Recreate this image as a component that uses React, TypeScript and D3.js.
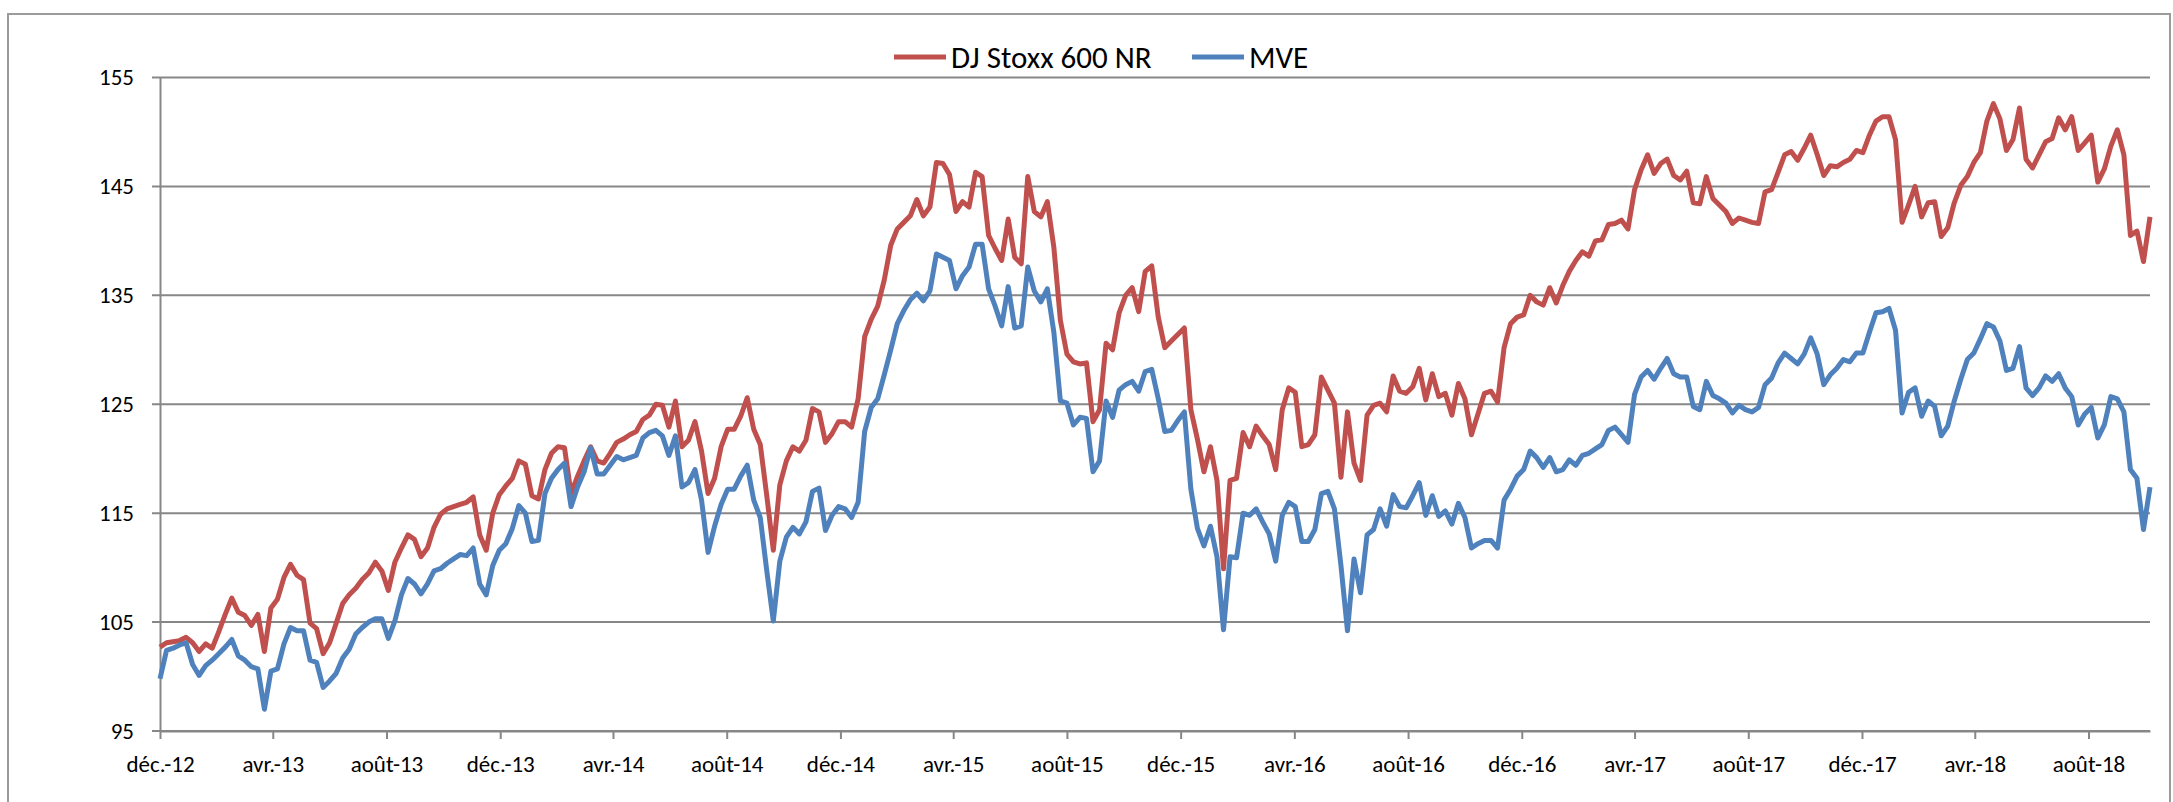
import React, { useEffect, useRef } from 'react';
import * as d3 from 'd3';

const WIDTH = 2173;
const HEIGHT = 802;

// weekly points, first one on 1 Dec 2012
const startDate = new Date(Date.UTC(2012, 11, 1));

const stoxx = [
  102.7, 103.1, 103.2, 103.3, 103.6, 103.1, 102.3, 103.0, 102.6, 104.1,
  105.7, 107.2, 105.9, 105.6, 104.7, 105.7, 102.3, 106.3, 107.1, 109.1,
  110.3, 109.3, 108.9, 104.9, 104.4, 102.1, 103.1, 104.9, 106.7, 107.5,
  108.1, 108.9, 109.5, 110.5, 109.7, 107.9, 110.5, 111.8, 113.0, 112.6,
  111.0, 111.8, 113.7, 114.9, 115.4, 115.6, 115.8, 116.0, 116.5, 113.0,
  111.6, 115.0, 116.7, 117.5, 118.2, 119.8, 119.5, 116.6, 116.3, 119.0,
  120.5, 121.1, 121.0, 116.8, 118.4, 119.8, 121.1, 119.8, 119.6, 120.5,
  121.5, 121.8, 122.2, 122.5, 123.6, 124.0, 125.0, 124.9, 122.9, 125.3,
  121.1, 121.7, 123.4, 120.7, 116.8, 118.2, 121.1, 122.7, 122.7, 123.9,
  125.6, 122.7, 121.3, 116.6, 111.6, 117.6, 119.8, 121.1, 120.7, 121.7,
  124.6, 124.3, 121.5, 122.3, 123.4, 123.4, 122.9, 125.5, 131.2, 132.8,
  134.0, 136.4, 139.6, 141.1, 141.7, 142.3, 143.8, 142.3, 143.1, 147.2,
  147.1, 146.1, 142.7, 143.6, 143.1, 146.3, 145.9, 140.5, 139.3, 138.2,
  142.0, 138.5, 137.9, 145.9, 142.7, 142.2, 143.6, 139.4, 132.7, 129.6,
  128.9, 128.7, 128.8, 123.4, 124.5, 130.6, 130.0, 133.4, 135.0, 135.7,
  133.5, 137.2, 137.7, 133.0, 130.2, 130.8, 131.4, 132.0, 124.5, 121.8,
  118.8, 121.1, 118.0, 109.9, 118.0, 118.2, 122.4, 121.1, 123.0, 122.1,
  121.3, 119.0, 124.5, 126.5, 126.1, 121.1, 121.3, 122.2, 127.5, 126.3,
  125.1, 118.3, 124.3, 119.6, 118.0, 124.0, 124.9, 125.1, 124.3, 127.6,
  126.2, 126.0, 126.6, 128.3, 125.4, 127.8, 125.7, 126.0, 124.0, 126.9,
  125.5, 122.2, 124.1, 126.0, 126.2, 125.2, 130.2, 132.4, 133.0, 133.2,
  135.0, 134.4, 134.1, 135.7, 134.3, 135.9, 137.2, 138.2, 139.0, 138.6,
  140.0, 140.1, 141.5, 141.6, 141.9, 141.1, 144.7, 146.5, 147.9, 146.2,
  147.1, 147.5, 146.0, 145.6, 146.4, 143.5, 143.4, 145.9, 143.9, 143.3,
  142.7, 141.6, 142.1, 141.9, 141.7, 141.6, 144.5, 144.7, 146.3, 147.9,
  148.2, 147.4, 148.5, 149.7, 147.9, 146.0, 146.9, 146.8, 147.2, 147.5,
  148.3, 148.1, 149.7, 151.0, 151.4, 151.4, 149.3, 141.7, 143.3, 145.0,
  142.2, 143.5, 143.6, 140.4, 141.2, 143.5, 145.1, 145.9, 147.2, 148.1,
  151.0, 152.6, 151.2, 148.3, 149.3, 152.2, 147.5, 146.7, 147.9, 149.1,
  149.4, 151.3, 150.2, 151.4, 148.3, 149.0, 149.7, 145.4, 146.6, 148.7,
  150.2, 147.9, 140.5, 140.9, 138.1, 142.2,
];

const mve = [
  99.8, 102.4, 102.6, 102.9, 103.1, 101.1, 100.1, 101.0, 101.5, 102.1,
  102.7, 103.4, 101.9, 101.5, 100.9, 100.7, 97.0, 100.5, 100.7, 103.0,
  104.5, 104.2, 104.2, 101.5, 101.3, 99.0, 99.6, 100.3, 101.7, 102.5,
  103.9, 104.5, 105.0, 105.3, 105.3, 103.5, 105.1, 107.5, 109.0, 108.5,
  107.6, 108.5, 109.7, 109.9, 110.4, 110.8, 111.2, 111.1, 111.8, 108.5,
  107.5, 110.2, 111.6, 112.2, 113.6, 115.7, 115.0, 112.4, 112.5, 116.8,
  118.2, 119.0, 119.6, 115.6, 117.4, 118.8, 121.0, 118.6, 118.6, 119.4,
  120.2, 119.9, 120.1, 120.3, 121.9, 122.4, 122.6, 122.1, 120.3, 122.1,
  117.4, 117.8, 119.0, 116.2, 111.4, 113.8, 115.8, 117.2, 117.2, 118.4,
  119.4, 116.2, 114.6, 109.7, 105.1, 110.6, 112.8, 113.7, 113.1, 114.2,
  117.0, 117.3, 113.4, 114.8, 115.6, 115.4, 114.6, 116.0, 122.5, 124.7,
  125.5, 127.7, 130.0, 132.4, 133.6, 134.6, 135.2, 134.5, 135.4, 138.8,
  138.5, 138.2, 135.6, 136.8, 137.6, 139.7, 139.7, 135.6, 134.0, 132.2,
  135.8, 132.0, 132.2, 137.6, 135.4, 134.4, 135.6, 131.6, 125.3, 125.1,
  123.1, 123.8, 123.7, 118.8, 119.8, 125.3, 123.8, 126.3, 126.8, 127.1,
  126.2, 128.0, 128.2, 125.5, 122.5, 122.6, 123.5, 124.3, 117.2, 113.6,
  112.0, 113.8, 111.0, 104.3, 111.0, 110.9, 115.0, 114.8, 115.4, 114.2,
  113.1, 110.6, 114.8, 116.0, 115.6, 112.4, 112.4, 113.5, 116.8, 117.0,
  115.4, 110.2, 104.2, 110.8, 107.7, 113.0, 113.5, 115.4, 113.8, 116.7,
  115.6, 115.5, 116.6, 117.8, 114.8, 116.6, 114.7, 115.2, 114.0, 115.9,
  114.6, 111.8, 112.2, 112.5, 112.5, 111.8, 116.2, 117.2, 118.4, 119.0,
  120.7, 120.1, 119.2, 120.1, 118.8, 119.0, 119.9, 119.4, 120.3, 120.5,
  120.9, 121.3, 122.6, 122.9, 122.2, 121.5, 125.9, 127.5, 128.1, 127.3,
  128.3, 129.2, 127.8, 127.5, 127.5, 124.8, 124.5, 127.1, 125.8, 125.5,
  125.1, 124.2, 124.9, 124.5, 124.3, 124.7, 126.8, 127.4, 128.8, 129.7,
  129.2, 128.7, 129.6, 131.1, 129.6, 126.8, 127.7, 128.3, 129.1, 128.9,
  129.7, 129.7, 131.6, 133.4, 133.5, 133.8, 131.8, 124.2, 126.1, 126.5,
  123.9, 125.3, 124.8, 122.1, 123.0, 125.3, 127.3, 129.1, 129.7, 131.0,
  132.4, 132.1, 130.8, 128.1, 128.3, 130.3, 126.5, 125.8, 126.5, 127.6,
  127.1, 127.8, 126.5, 125.7, 123.1, 124.1, 124.7, 121.9, 123.1, 125.7,
  125.5, 124.3, 119.0, 118.2, 113.5, 117.4,
];

const seriesNames = ['DJ Stoxx 600 NR', 'MVE'];
const seriesColors = ['#C0504D', '#4F81BD'];

const yTicks = [95, 105, 115, 125, 135, 145, 155];
const xTickLabels = [
  'déc.-12', 'avr.-13', 'août-13', 'déc.-13', 'avr.-14', 'août-14',
  'déc.-14', 'avr.-15', 'août-15', 'déc.-15', 'avr.-16', 'août-16',
  'déc.-16', 'avr.-17', 'août-17', 'déc.-17', 'avr.-18', 'août-18',
];

const dates = stoxx.map((_, i) => d3.utcDay.offset(startDate, i * 7));
const tickDates = xTickLabels.map((_, i) => d3.utcMonth.offset(startDate, i * 4));

const FONT = 'Carlito, Calibri, Lato, sans-serif';

const App = () => {
  const svgRef = useRef(null);

  useEffect(() => {
    const svg = d3.select(svgRef.current);
    svg.selectAll('*').remove();

    const plot = { left: 160, right: 2150, top: 77.5, bottom: 731 };

    const x = d3
      .scaleUtc()
      .domain([dates[0], dates[dates.length - 1]])
      .range([plot.left, plot.right]);

    const y = d3.scaleLinear().domain([95, 155]).range([plot.bottom, plot.top]);

    // chart area frame
    svg
      .append('rect')
      .attr('x', 8)
      .attr('y', 14)
      .attr('width', 2162)
      .attr('height', 830)
      .attr('fill', '#fff')
      .attr('stroke', '#9b9b9b')
      .attr('stroke-width', 2);

    // horizontal gridlines, starting at the tick mark left of the axis
    svg
      .append('g')
      .selectAll('line')
      .data(yTicks)
      .join('line')
      .attr('x1', plot.left - 8)
      .attr('x2', plot.right)
      .attr('y1', d => y(d))
      .attr('y2', d => y(d))
      .attr('stroke', '#878787')
      .attr('stroke-width', 2);

    const yAxis = svg
      .append('g')
      .attr('transform', `translate(${plot.left},0)`)
      .call(d3.axisLeft(y).tickValues(yTicks).tickSize(0).tickPadding(26));

    const xAxis = svg
      .append('g')
      .attr('transform', `translate(0,${plot.bottom})`)
      .call(
        d3
          .axisBottom(x)
          .tickValues(tickDates)
          .tickFormat((_, i) => xTickLabels[i])
          .tickSize(8)
          .tickSizeOuter(0)
          .tickPadding(17)
      );

    [yAxis, xAxis].forEach(g => {
      g.select('.domain').attr('stroke', '#878787').attr('stroke-width', 2);
      g.selectAll('.tick line').attr('stroke', '#878787').attr('stroke-width', 2);
      g.selectAll('.tick text')
        .attr('fill', '#000')
        .attr('font-family', FONT)
        .attr('font-size', 23);
    });

    const line = d3
      .line<number>()
      .x((_, i) => x(dates[i]))
      .y(d => y(d));

    [stoxx, mve].forEach((values, k) => {
      svg
        .append('path')
        .datum(values)
        .attr('fill', 'none')
        .attr('stroke', seriesColors[k])
        .attr('stroke-width', 5)
        .attr('stroke-linejoin', 'round')
        .attr('d', line);
    });

    // legend
    const legendX = [894, 1192];
    const legend = svg.append('g').attr('font-family', FONT).attr('font-size', 31);
    seriesNames.forEach((name, k) => {
      legend
        .append('line')
        .attr('x1', legendX[k])
        .attr('x2', legendX[k] + 52)
        .attr('y1', 57)
        .attr('y2', 57)
        .attr('stroke', seriesColors[k])
        .attr('stroke-width', 5);
      legend
        .append('text')
        .attr('x', legendX[k] + 57)
        .attr('y', 68)
        .attr('fill', '#000')
        .text(name);
    });
  }, []);

  return (
    <svg
      ref={svgRef}
      width={WIDTH}
      height={HEIGHT}
      style={{ position: 'absolute', left: 0, top: 0, display: 'block' }}
    />
  );
};

export default App;
